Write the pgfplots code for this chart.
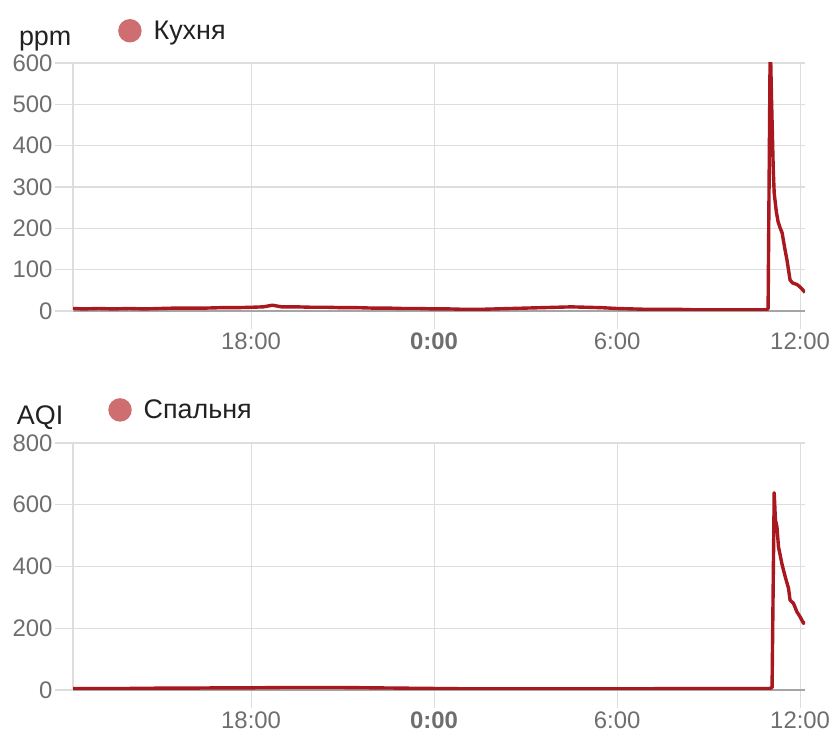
\documentclass[border=0pt]{standalone}
\usepackage{fontspec}
\setmainfont{Liberation Sans}
\usepackage{pgfplots}
\pgfplotsset{compat=1.18}
\definecolor{linec}{RGB}{168,24,30}
\definecolor{legc}{RGB}{207,110,112}
\definecolor{gridc}{RGB}{221,221,221}
\definecolor{axc}{RGB}{165,165,165}
\definecolor{tickc}{RGB}{110,110,110}
\definecolor{txt}{RGB}{33,33,33}
\pgfplotsset{
 mystyle/.style={
  scale only axis, width=732bp, height=248bp,
  xmin=-11.84, xmax=12.16,
  axis lines*=left,
  x axis line style={draw=axc, line width=1.2bp},
  y axis line style={draw=gridc, line width=1.2bp},
  grid=major, major grid style={draw=gridc, line width=1.2bp},
  tick align=outside, major tick length=18bp,
  tick style={draw=gridc, line width=1.2bp},
  xtick={-6,0,6,12},
  xticklabels={18:00,\textbf{0:00},6:00,12:00},
  tick label style={font=\fontsize{24}{26}\selectfont, text=tickc},
  yticklabel style={xshift=1bp},
  /pgf/number format/assume math mode=true,
  legend style={draw=none, fill=none, inner sep=0pt, column sep=10bp, font=\fontsize{27}{30}\selectfont, text=txt},
  legend image code/.code={\fill[legc] (10bp,0bp) circle (10bp);},
  every axis y label/.style={anchor=base, font=\fontsize{27}{30}\selectfont, text=txt},
 }
}
\begin{document}
\begin{tikzpicture}
\path[use as bounding box] (0bp,0bp) rectangle (834bp,750bp);
\begin{axis}[mystyle, at={(73bp,439bp)}, anchor=south west,
  ymin=0, ymax=600, ytick={0,100,...,600},
  ylabel={ppm}, every axis y label/.append style={at={(rel axis cs:-0.038,1.069)}},
  legend style={at={(rel axis cs:0.0615,1.13)}, anchor=west}]
\addplot[linec, line width=3.4bp, no markers, line join=round] coordinates {
(-11.84,6) (-11.5,5) (-11,6) (-10.5,5) (-10,6) (-9.5,5) (-9,6) (-8.5,7) (-8,7) (-7.5,7)
(-7,8) (-6.5,8) (-6,9) (-5.6,10) (-5.3,14) (-5.0,10) (-4.5,10) (-4,9) (-3.5,9) (-3,8)
(-2.5,8) (-2,7) (-1.5,7) (-1,6) (-0.5,6) (0,5) (0.5,5) (1,4) (1.5,4) (2,5)
(2.5,6) (3,7) (3.5,8) (4,9) (4.5,10) (5,9) (5.5,8) (6,6) (6.5,5) (7,4)
(7.5,4) (8,4) (8.5,3) (9,3) (9.5,3) (10,3) (10.5,3) (10.9,3) (10.95,6) (11.02,660)
(11.06,520) (11.12,340) (11.15,285) (11.22,240) (11.28,215) (11.35,200) (11.41,189) (11.5,150) (11.57,123) (11.67,75)
(11.75,68) (11.9,64) (12.0,58) (12.1,50) (12.16,45)
};
\addlegendentry{Кухня}
\end{axis}
\begin{axis}[mystyle, at={(73bp,60bp)}, anchor=south west, height=247bp,
  ymin=0, ymax=800, ytick={0,200,...,800},
  ylabel={AQI}, every axis y label/.append style={at={(rel axis cs:-0.045,1.073)}},
  legend style={at={(rel axis cs:0.048,1.134)}, anchor=west}]
\addplot[linec, line width=3.4bp, no markers, line join=round] coordinates {
(-11.84,5) (-11,5) (-10,5) (-9,6) (-8,6) (-7,7) (-6,7) (-5,8) (-4,8) (-3,8)
(-2,7) (-1,6) (0,5) (1,4) (2,4) (3,4) (4,4) (5,4) (6,4) (7,4)
(8,5) (9,5) (10,5) (11.0,5) (11.08,8) (11.15,639) (11.19,551) (11.24,529) (11.29,464) (11.40,410)
(11.51,367) (11.62,329) (11.67,291) (11.78,281) (11.89,254) (12.0,237) (12.11,216) (12.16,222)
};
\addlegendentry{Спальня}
\end{axis}
\end{tikzpicture}
\end{document}
